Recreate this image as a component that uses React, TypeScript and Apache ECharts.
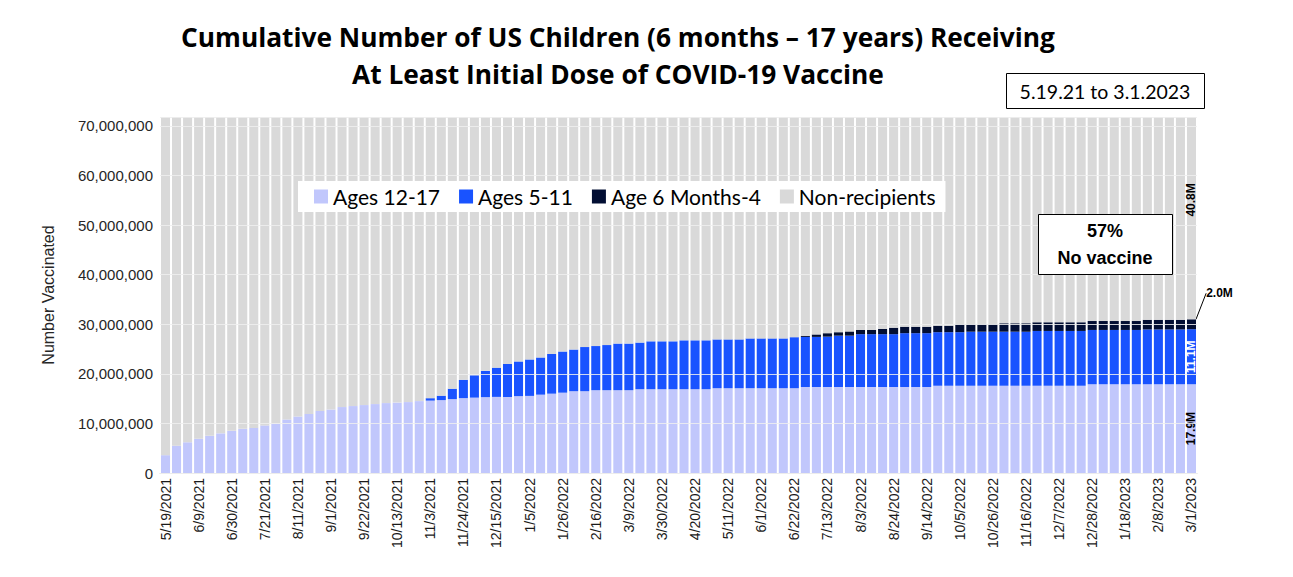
import React, { useEffect, useRef } from "react";
import * as echarts from "echarts";

// Weekly report dates: 5/19/2021 .. 3/1/2023 (94 weeks)
const START_DATE = Date.UTC(2021, 4, 19);
const WEEK_COUNT = 94;
const categories: string[] = [];
for (let i = 0; i < WEEK_COUNT; i++) {
  const d = new Date(START_DATE + i * 7 * 86400000);
  categories.push(`${d.getUTCMonth() + 1}/${d.getUTCDate()}/${d.getUTCFullYear()}`);
}

// Values in millions of children
const TOTAL_CHILDREN = 71.8;

const ages12to17 = [
  3.6, 5.5, 6.2, 6.9, 7.5, 8.0, 8.5, 8.9, 9.1, 9.6, 10.0, 10.8, 11.4, 11.9, 12.5, 12.8, 13.3, 13.5, 13.7, 13.9, 14.1, 14.2, 14.3, 14.5,
  14.6, 14.7, 14.9, 15.1, 15.2, 15.3, 15.35,
  15.35, 15.5, 15.55, 15.8, 16.0, 16.2, 16.5, 16.5, 16.7, 16.7, 16.7, 16.7,
  16.9, 16.9, 16.9, 16.9, 16.9, 16.9, 16.9,
  17.1, 17.1, 17.1, 17.1, 17.1, 17.1, 17.1, 17.1,
  17.35, 17.35, 17.35, 17.35, 17.35, 17.35, 17.35, 17.35, 17.35, 17.35, 17.35, 17.35,
  17.6, 17.6, 17.6, 17.6, 17.6, 17.6, 17.6, 17.6, 17.6, 17.6, 17.6, 17.6, 17.6, 17.6,
  17.9, 17.9, 17.9, 17.9, 17.9, 17.9, 17.9, 17.9, 17.9, 17.9,
];

const ages5to11 = [
  0, 0, 0, 0, 0, 0, 0, 0, 0, 0, 0, 0, 0, 0, 0, 0, 0, 0, 0, 0, 0, 0, 0, 0,
  0.5, 0.9, 2.1, 3.7, 4.5, 5.3, 5.9,
  6.65, 7.0, 7.35, 7.5, 8.0, 8.3, 8.4, 8.9, 8.9, 9.1, 9.4, 9.4,
  9.4, 9.65, 9.65, 9.65, 9.85, 9.85, 9.85, 9.85, 9.85, 9.85, 10.05, 10.05, 10.05, 10.05, 10.3,
  10.1, 10.1, 10.15, 10.35, 10.35, 10.65, 10.65, 10.65, 10.65, 10.85, 10.85, 10.85,
  10.8, 10.8, 10.8, 10.9, 10.9, 10.9, 10.9, 10.9, 10.9, 11.05, 11.05, 11.05, 11.05, 11.05,
  10.95, 10.95, 10.95, 10.95, 10.95, 11.05, 11.05, 11.05, 11.05, 11.1,
];

const age6mTo4 = [
  0, 0, 0, 0, 0, 0, 0, 0, 0, 0, 0, 0, 0, 0, 0, 0, 0, 0, 0, 0, 0, 0, 0, 0,
  0, 0, 0, 0, 0, 0, 0, 0, 0, 0, 0, 0, 0, 0, 0, 0, 0, 0, 0, 0, 0, 0, 0, 0,
  0, 0, 0, 0, 0, 0, 0, 0, 0, 0,
  0.2, 0.5, 0.7, 0.7, 0.85, 0.85, 0.85, 1.05, 1.3, 1.3, 1.3, 1.3,
  1.3, 1.3, 1.6, 1.5, 1.5, 1.5, 1.7, 1.7, 1.7, 1.75, 1.75, 1.75, 1.75, 1.75,
  1.8, 1.8, 1.8, 1.8, 1.8, 1.95, 1.95, 1.95, 1.95, 2.0,
];

const nonRecipients = ages12to17.map(
  (v, i) => Math.round((TOTAL_CHILDREN - v - ages5to11[i] - age6mTo4[i]) * 100) / 100
);

const seriesNames = ["Ages 12-17", "Ages 5-11", "Age 6 Months-4", "Non-recipients"];
const seriesColors = ["#C1C7FC", "#1953FF", "#020E33", "#D9D9D9"];

const App: React.FC = () => {
  const ref = useRef<HTMLDivElement>(null);

  useEffect(() => {
    document.body.style.margin = "0";
    if (!ref.current) return;
    const chart = echarts.init(ref.current, undefined, { renderer: "svg" });
    const last = WEEK_COUNT - 1;
    const labelFont = {
      fontFamily: "'Liberation Sans Narrow', 'Liberation Sans', Arial, sans-serif",
      fontWeight: "bold" as const,
      fontSize: 12,
    };
    const fmtM = (v: number) => `${v.toFixed(1)}M`;

    const lastLabel = (arr: number[], color: string, position: any = "inside") =>
      arr.map((v, i) =>
        i === last
          ? {
              value: v,
              label: {
                show: true,
                position,
                align: "center",
                verticalAlign: "middle",
                rotate: 90,
                color,
                ...labelFont,
                formatter: () => fmtM(v),
              },
            }
          : v
      );

    const datasets = [
      lastLabel(ages12to17, "#000"),
      lastLabel(ages5to11, "#fff"),
      age6mTo4.map((v, i) =>
        i === last
          ? {
              value: v,
              label: {
                show: true,
                position: "inside",
                color: "#000",
                ...labelFont,
                formatter: () => fmtM(v),
              },
            }
          : v
      ),
      lastLabel(nonRecipients, "#000", ["50%", "41%"]),
    ];

    const uiFont = "Lato, 'Noto Sans', sans-serif";

    chart.setOption({
      animation: false,
      grid: { left: 160, right: 96, top: 117, bottom: 104, containLabel: false },
      legend: {
        data: seriesNames,
        left: 298,
        top: 181,
        backgroundColor: "#fff",
        padding: [5, 10, 5, 16],
        itemGap: 19,
        itemWidth: 14,
        itemHeight: 14,
        icon: "rect",
        selectedMode: false,
        textStyle: { fontFamily: uiFont, fontSize: 21, color: "#000" },
      },
      xAxis: {
        type: "category",
        data: categories,
        axisTick: { show: false },
        axisLine: { lineStyle: { color: "#d9d9d9" } },
        axisLabel: {
          interval: 2,
          rotate: 90,
          fontSize: 14,
          fontFamily: "'Liberation Sans', Arial, sans-serif",
          color: "#1a1a1a",
          margin: 5,
        },
      },
      yAxis: {
        type: "value",
        min: 0,
        max: TOTAL_CHILDREN,
        interval: 10,
        z: 5,
        name: "Number Vaccinated",
        nameLocation: "middle",
        nameRotate: 90,
        nameGap: 104,
        nameTextStyle: { fontSize: 16, fontFamily: "'Liberation Sans', Arial, sans-serif", color: "#262626" },
        axisLine: { show: false },
        axisTick: { show: false },
        splitLine: { show: true, lineStyle: { color: "rgba(238,238,238,0.85)", width: 1 } },
        axisLabel: {
          showMaxLabel: false,
          fontSize: 15,
          margin: 7,
          fontFamily: "'Liberation Sans', Arial, sans-serif",
          color: "#262626",
          formatter: (v: number) => Math.round(v * 1e6).toLocaleString("en-US"),
        },
      },
      series: seriesNames.map((name, k) => ({
        name,
        type: "bar",
        stack: "total",
        barCategoryGap: "18%",
        itemStyle: { color: seriesColors[k] },
        data: datasets[k],
        ...(k === 2
          ? {
              labelLayout: (p: any) => (p.dataIndex === last ? { dx: 28, dy: -31 } : {}),
              labelLine: { show: true, lineStyle: { color: "#000", width: 1 } },
            }
          : {}),
      })),
      graphic: [
        {
          type: "text",
          x: 618,
          y: 18,
          z: 100,
          style: {
            text: "Cumulative Number of US Children (6 months \u2013 17 years) Receiving\nAt Least Initial Dose of COVID-19 Vaccine",
            textAlign: "center",
            textVerticalAlign: "top",
            font: "bold 26.3px 'Open Sans', Lato, sans-serif",
            lineHeight: 37,
            fill: "#000",
          },
        },
        {
          type: "rect",
          z: 100,
          shape: { x: 1006.5, y: 73.5, width: 198, height: 35 },
          style: { fill: "#fff", stroke: "#000", lineWidth: 1 },
        },
        {
          type: "text",
          z: 101,
          x: 1105,
          y: 91,
          style: {
            text: "5.19.21 to 3.1.2023",
            textAlign: "center",
            textVerticalAlign: "middle",
            font: `19.5px ${uiFont}`,
            fill: "#000",
          },
        },
        {
          type: "rect",
          z: 100,
          shape: { x: 1038.5, y: 214.5, width: 134, height: 60 },
          style: { fill: "#fff", stroke: "#000", lineWidth: 1 },
        },
        {
          type: "text",
          z: 101,
          x: 1105,
          y: 244,
          style: {
            text: "57%\nNo vaccine",
            textAlign: "center",
            textVerticalAlign: "middle",
            font: "bold 18px 'Liberation Sans Narrow', 'Liberation Sans', Arial, sans-serif",
            lineHeight: 27,
            fill: "#000",
          },
        },
      ],
    });

    return () => chart.dispose();
  }, []);

  return <div ref={ref} style={{ width: 1293, height: 577 }} />;
};

export default App;
